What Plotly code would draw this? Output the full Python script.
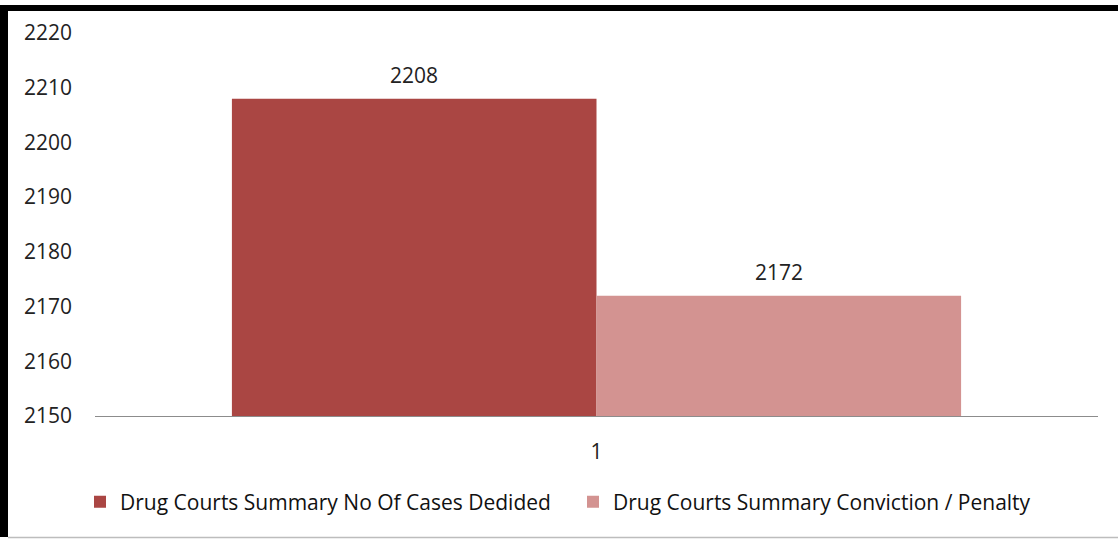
import plotly.graph_objects as go

categories = [1]
series_names = ["Drug Courts Summary No Of Cases Dedided",
                "Drug Courts Summary Conviction / Penalty"]
cases_decided = [2208]
conviction_penalty = [2172]
y_ticks = [2150, 2160, 2170, 2180, 2190, 2200, 2210, 2220]

colors = ["#AA4643", "#D39391"]
W, H = 1118, 539
L, R, T, B = 95, 20, 33, 123
bar_w = 0.3635
FONT = "Open Sans, Lato, sans-serif"
FS = 21

fig = go.Figure()
for i, (name, vals) in enumerate(zip(series_names, [cases_decided, conviction_penalty])):
    fig.add_trace(go.Bar(
        x=categories, y=[v - y_ticks[0] for v in vals], base=y_ticks[0],
        name=name, marker=dict(color=colors[i], line=dict(width=0)),
        width=bar_w, offset=-bar_w if i == 0 else 0,
        hoverinfo="skip",
    ))
    for c, v in zip(categories, vals):
        fig.add_annotation(x=c + (-bar_w / 2 if i == 0 else bar_w / 2), y=v,
                           text=str(v), showarrow=False, yanchor="bottom",
                           yshift=8, font=dict(size=FS, color="#222", family=FONT))

pw, ph = W - L - R, H - T - B
def px(x): return (x - L) / pw
def py(y): return (H - B - y) / ph

shapes = [
    dict(type="rect", xref="paper", yref="paper", x0=px(0), x1=px(W), y0=py(11), y1=py(5),
         fillcolor="black", line=dict(width=0), layer="above"),
    dict(type="rect", xref="paper", yref="paper", x0=px(0), x1=px(8), y0=py(537), y1=py(5),
         fillcolor="black", line=dict(width=0), layer="above"),
    dict(type="line", xref="paper", yref="paper", x0=px(8), x1=px(W), y0=py(537.5), y1=py(537.5),
         line=dict(color="#bdbdbd", width=1.5), layer="above"),
]

fig.update_layout(
    width=W, height=H,
    margin=dict(l=L, r=R, t=T, b=B),
    paper_bgcolor="white", plot_bgcolor="white",
    barmode="overlay",
    showlegend=True,
    legend=dict(orientation="h", x=px(80), xanchor="left", y=py(502), yanchor="middle",
                font=dict(size=FS, color="#111", family=FONT),
                entrywidth=448, entrywidthmode="pixels", bgcolor="rgba(0,0,0,0)"),
    xaxis=dict(range=[0.5, 1.5], tickvals=categories, ticktext=[str(c) for c in categories],
               showgrid=False, zeroline=False, showline=True, linecolor="#8c8c8c", linewidth=1,
               ticks="", ticklabelstandoff=17,
               tickfont=dict(size=FS, color="#222", family=FONT), fixedrange=True),
    yaxis=dict(range=[y_ticks[0], y_ticks[-1]], tickvals=y_ticks, showgrid=False,
               zeroline=False, showline=False, ticks="", ticklabelstandoff=22,
               tickfont=dict(size=FS, color="#222", family=FONT), fixedrange=True),
    shapes=shapes,
)

fig.write_html("out.html", config={"displayModeBar": False},
               post_script="document.body.style.margin='0';")
